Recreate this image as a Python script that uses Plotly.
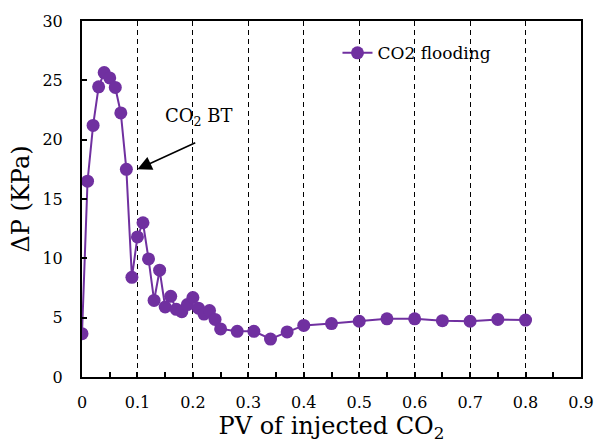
import plotly.graph_objects as go

# PV of injected CO2
pv = [0.00, 0.01, 0.02, 0.03, 0.04, 0.05, 0.06, 0.07, 0.08, 0.09,
      0.10, 0.11, 0.12, 0.13, 0.14, 0.15, 0.16, 0.17, 0.18, 0.19,
      0.20, 0.21, 0.22, 0.23, 0.24, 0.25, 0.28, 0.31, 0.34, 0.37,
      0.40, 0.45, 0.50, 0.55, 0.60, 0.65, 0.70, 0.75, 0.80]
# Differential pressure (KPa)
dp = [3.65, 16.5, 21.2, 24.45, 25.65, 25.2, 24.4, 22.25, 17.5, 8.4,
      11.8, 13.0, 9.95, 6.45, 9.0, 5.9, 6.8, 5.7, 5.5, 6.1,
      6.7, 5.8, 5.3, 5.6, 4.85, 4.05, 3.85, 3.85, 3.2, 3.8,
      4.35, 4.5, 4.7, 4.9, 4.9, 4.75, 4.7, 4.85, 4.8]

series_name = "CO2 flooding"
bt_label = "CO<sub>2</sub> BT"
bt_point = (0.10, 17.5)
bt_tail = (0.207, 19.8)
bt_text_pos = (0.211, 21.9)

purple = "#7030A0"
font_family = "DejaVu Serif"

fig = go.Figure()
fig.add_trace(go.Scatter(
    x=pv, y=dp, mode="lines+markers", name=series_name,
    line=dict(color=purple, width=2),
    marker=dict(color=purple, size=13),
))

fig.add_annotation(
    x=bt_point[0], y=bt_point[1], ax=bt_tail[0], ay=bt_tail[1],
    xref="x", yref="y", axref="x", ayref="y",
    text="", showarrow=True, arrowhead=2, arrowsize=1.9, arrowwidth=1.5,
    arrowcolor="black",
)
fig.add_annotation(
    x=bt_text_pos[0], y=bt_text_pos[1], xref="x", yref="y",
    text=bt_label, showarrow=False,
    font=dict(family=font_family, size=18, color="black"),
)

fig.update_layout(
    width=606, height=448,
    margin=dict(l=82, r=15, t=18, b=71),
    paper_bgcolor="white", plot_bgcolor="white",
    font=dict(family=font_family, color="black"),
    showlegend=True,
    legend=dict(
        x=0.512, y=0.96, xanchor="left", yanchor="top",
        bgcolor="rgba(0,0,0,0)", font=dict(size=17, family=font_family),
    ),
    xaxis=dict(
        range=[0, 0.9], dtick=0.1, tick0=0,
        tickformat="~g",
        showline=True, linecolor="black", linewidth=2, mirror=True,
        ticks="inside", ticklen=5, tickwidth=1.5, tickcolor="black",
        minor=dict(dtick=0.05, ticks="inside", ticklen=5, tickwidth=1.5,
                   tickcolor="black", showgrid=False),
        showgrid=True, gridcolor="black", gridwidth=1, griddash="5px,4px",
        zeroline=False,
        tickfont=dict(size=16, family=font_family),
        ticklabelstandoff=10,
        title=dict(text="PV of injected CO<sub>2</sub>",
                   font=dict(size=24, family=font_family), standoff=2),
    ),
    yaxis=dict(
        range=[0, 30], dtick=5, tick0=0,
        showline=True, linecolor="black", linewidth=2, mirror=True,
        ticks="inside", ticklen=5, tickwidth=1.5, tickcolor="black",
        showgrid=False, zeroline=False,
        tickfont=dict(size=16, family=font_family),
        ticklabelstandoff=14,
        title=dict(text="ΔP (KPa)", font=dict(size=24, family=font_family),
                   standoff=6),
    ),
)

fig.write_html("out.html")
